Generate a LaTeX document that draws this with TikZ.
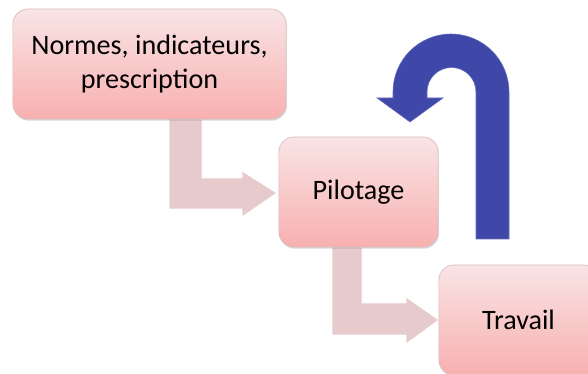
\documentclass[tikz,border=0pt]{standalone}
\usepackage{fontspec}
\usepackage{tikz}
\usetikzlibrary{shadows}
\newfontfamily\boxfont{Carlito}
\definecolor{boxtop}{HTML}{F9E4E5}
\definecolor{boxbot}{HTML}{F8B0B0}
\definecolor{boxline}{HTML}{D9BDBD}
\definecolor{flow}{HTML}{E6CACC}
\definecolor{loopblue}{HTML}{3F47A8}
\tikzset{
  etape/.style={draw=boxline, line width=0.5pt, rounded corners=0.38cm,
    top color=boxtop, bottom color=boxbot, minimum height=2.75cm,
    align=center, font=\boxfont\fontsize{20}{24}\selectfont,
    drop shadow={shadow xshift=0.6pt, shadow yshift=-1.2pt, opacity=0.3}},
  bent/.style={fill=flow, draw=white, line width=0.6pt},
  retour/.style={fill=loopblue, draw=loopblue!80!white, line width=0.4pt},
}

\begin{document}
\begin{tikzpicture}[x=0.025cm, y=0.025cm]
  \clip (0,0) rectangle (588,374);

  % bent arrows between the steps
  \draw[bent] (169,255) -- (202,255) -- (202,196) -- (242,196) -- (242,203)
    -- (277,181) -- (242,157) -- (242,165) -- (169,165) -- cycle;
  \draw[bent] (332,127) -- (362,127) -- (362,71) -- (406,71) -- (406,77)
    -- (439,54) -- (406,30) -- (406,39) -- (332,39) -- cycle;

  % steps
  \node[etape, minimum width=6.83cm] (normes) at (149.5,310)
    {Normes, indicateurs,\\prescription};
  \node[etape, minimum width=3.98cm] (pilotage) at (358.5,182) {Pilotage};
  \node[etape, minimum width=3.98cm] (travail) at (518.5,54) {Travail};

  % feedback loop
  \draw[retour] (476,135) -- (476,282) arc (0:180:24.5) -- (427,276)
    -- (443,276) -- (410,252) -- (377,276) -- (393,276) -- (393,282)
    arc (180:0:58) -- (509,135) -- cycle;
\end{tikzpicture}
\end{document}
